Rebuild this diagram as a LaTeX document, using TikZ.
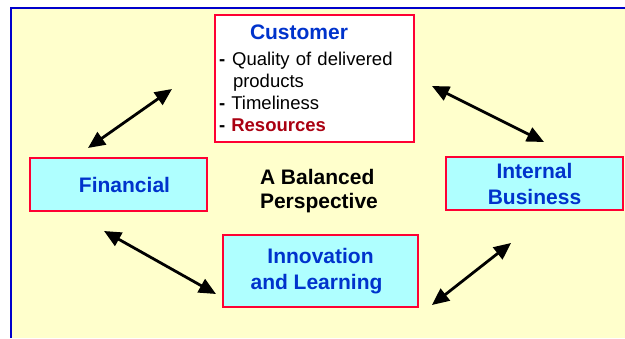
\documentclass[tikz,border=0pt]{standalone}
\usepackage{fontspec}
\setmainfont{Liberation Sans}
\usetikzlibrary{
  arrows.meta,
  positioning,
}
\tikzstyle{twoway} = [
  {Triangle[length=17pt,width=15pt]}-{Triangle[length=17pt,width=15pt]},
  line width=2.8pt,
  black,
]
\tikzstyle{persbox} = [
  rectangle,
  draw=boxred,
  line width=1.6pt,
  fill=boxcyan,
  text=titleblue,
  font=\fontsize{21}{26}\selectfont\bfseries,
  align=center,
]
\tikzstyle{custbox} = [
  rectangle,
  draw=boxred,
  line width=1.6pt,
  fill=white,
  text=black,
  font=\fontsize{18.5}{22}\selectfont,
  align=left,
  text width=191pt,
  inner xsep=4pt,
  minimum height=127pt,
]
\definecolor{bgyellow}{RGB}{255, 255, 204}
\definecolor{frameblue}{RGB}{0, 0, 204}
\definecolor{boxcyan}{RGB}{175, 255, 255}
\definecolor{boxred}{RGB}{255, 0, 51}
\definecolor{titleblue}{RGB}{0, 51, 204}
\definecolor{resred}{RGB}{170, 0, 17}

\begin{document}
\begin{tikzpicture}[x=1pt,y=1pt]
	\useasboundingbox (0,0) rectangle (625,338);
	\fill[white] (0,0) rectangle (625,338);
	\fill[bgyellow] (11,0) rectangle (625,330);
	\draw[frameblue,line width=2.2pt] (11,0) -- (11,330) -- (625,330);

	\node[custbox] (cust) at (314.5,259.5) {\hspace*{31pt}{\color{titleblue}\fontsize{21}{26}\selectfont\bfseries Customer}\\[4pt]
		\textbf{-}\hspace{7pt}Quality of delivered\\
		\hspace*{14pt}products\\
		\textbf{-} Timeliness\\
		\textbf{-} {\color{resred}\bfseries Resources}};
	\node[persbox,minimum width=177,minimum height=53] (fin) at (118.5,153.5) {\hspace*{12pt}Financial};
	\node[persbox,minimum width=177,minimum height=53] (intbus) at (534.5,154.5) {Internal\\Business};
	\node[persbox,minimum width=195,minimum height=72] (innov) at (320.5,67) {Innovation\\and Learning\hspace*{8pt}};
	\node[inner sep=0pt,align=left,font=\fontsize{21}{24}\selectfont\bfseries,yshift=-7pt] (persp) [right=52pt of fin] {A Balanced\\Perspective};

	% free arrow ends
	\coordinate (fc1) at (88,190);
	\coordinate (fc2) at (172,249);
	\coordinate (ci1) at (432,252);
	\coordinate (ci2) at (544,196);
	\coordinate (fi1) at (104,107);
	\coordinate (fi2) at (216,44);
	\coordinate (ii1) at (432,33);
	\coordinate (ii2) at (511,95);

	\draw[twoway] (fc1) -- (fc2);
	\draw[twoway] (ci1) -- (ci2);
	\draw[twoway] (fi1) -- (fi2);
	\draw[twoway] (ii1) -- (ii2);
\end{tikzpicture}
\end{document}
